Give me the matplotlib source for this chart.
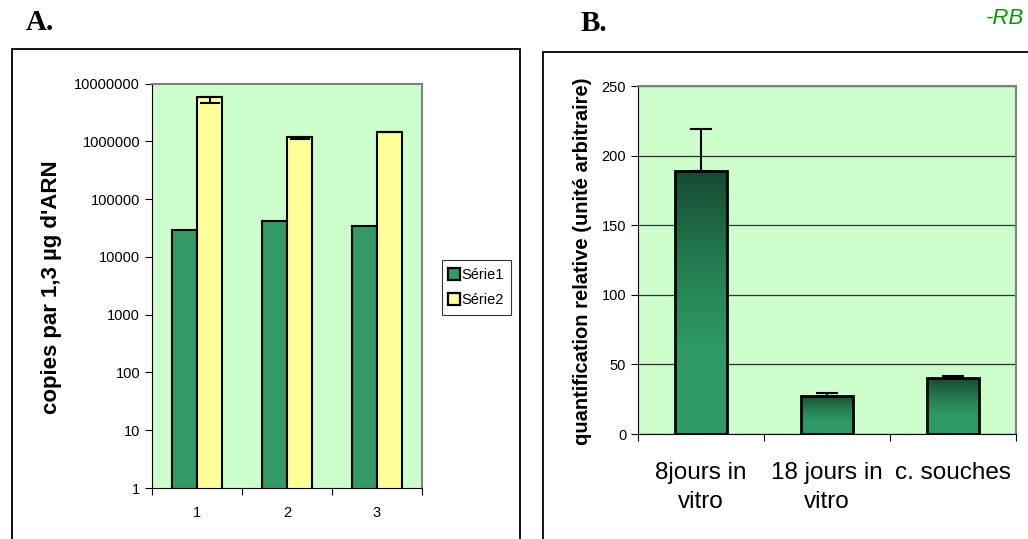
import numpy as np
import matplotlib
matplotlib.use('Agg')
import matplotlib.pyplot as plt
from matplotlib.patches import Rectangle
from matplotlib.colors import LinearSegmentedColormap
from matplotlib.lines import Line2D

plt.rcParams['font.family'] = ['Liberation Sans', 'DejaVu Sans']

# Panel A data
cats_a = ['1', '2', '3']
serie1 = [29000, 41500, 34500]
serie2 = [5750000, 1200000, 1450000]
serie2_err_low = [1100000, 100000, 20000]
yticks_a = [1, 10, 100, 1000, 10000, 100000, 1000000, 10000000]

# Panel B data
cats_b = ['8jours in\nvitro', '18 jours in\nvitro', 'c. souches']
quant = [189, 27.5, 40]
quant_err = [30, 2, 1.5]
yticks_b = [0, 50, 100, 150, 200, 250]

W, H = 1028, 539
fig = plt.figure(figsize=(W / 100, H / 100), dpi=100)

def fx(px):
    return px / W

def fy(py):
    return 1 - py / H

bg = '#CCFFCC'
c1 = '#339966'
c2 = '#FFFF99'

# outer frames
fig.patches.append(Rectangle((fx(12), fy(545)), fx(520) - fx(12), fy(49) - fy(545),
                             transform=fig.transFigure, fill=False, edgecolor='black', lw=1.3))
fig.patches.append(Rectangle((fx(543), fy(545)), fx(1040) - fx(543), fy(52) - fy(545),
                             transform=fig.transFigure, fill=False, edgecolor='black', lw=1.3))

fig.text(fx(26), fy(30), 'A.', family='Liberation Serif', fontweight='bold', fontsize=21)
fig.text(fx(581), fy(31), 'B.', family='Liberation Serif', fontweight='bold', fontsize=21)
fig.text(fx(1024), fy(24), '-RB', color='#009900', fontstyle='italic', fontsize=16, ha='right')

# ---- Panel A ----
axA = fig.add_axes([fx(152), fy(488), fx(422) - fx(152), fy(83.5) - fy(488)])
axA.set_facecolor(bg)
x = np.arange(len(cats_a))
bw = 0.283
axA.bar(x - bw / 2, serie1, bw, color=c1, edgecolor='black', linewidth=1.5, zorder=2)
axA.bar(x + bw / 2, serie2, bw, color=c2, edgecolor='black', linewidth=1.5, zorder=2)
axA.errorbar(x + bw / 2, serie2, yerr=[serie2_err_low, [0, 0, 0]], fmt='none',
             ecolor='black', elinewidth=1.5, capsize=7, capthick=1.5, zorder=3)
axA.set_yscale('log')
axA.set_ylim(1, 10000000)
axA.set_xlim(-0.5, 2.5)
axA.set_yticks(yticks_a)
axA.set_yticklabels([str(v) for v in yticks_a], fontsize=10.5)
axA.yaxis.set_minor_locator(matplotlib.ticker.NullLocator())
axA.set_xticks([-0.5, 0.5, 1.5, 2.5])
axA.set_xticklabels([])
axA.set_xticks(x, minor=True)
axA.set_xticklabels(cats_a, minor=True, fontsize=10.5)
axA.tick_params(axis='x', which='minor', length=0, pad=13)
axA.tick_params(axis='x', which='major', length=5, direction='out')
axA.tick_params(axis='y', length=5, direction='out')
for s in ['top', 'right']:
    axA.spines[s].set_color('#808080')
    axA.spines[s].set_linewidth(1.5)
for s in ['left', 'bottom']:
    axA.spines[s].set_color('black')
fig.text(fx(52), fy(287), "copies par 1,3 µg d'ARN", rotation=90, fontweight='bold',
         fontsize=16, ha='center', va='center')

handles = [Line2D([], [], marker='s', linestyle='none', markersize=9, markerfacecolor=c1,
                  markeredgecolor='black', markeredgewidth=1.6),
           Line2D([], [], marker='s', linestyle='none', markersize=9, markerfacecolor=c2,
                  markeredgecolor='black', markeredgewidth=1.6)]
leg = fig.legend(handles, ['Série1', 'Série2'], loc='upper left',
                 bbox_to_anchor=(fx(442), fy(260)), fontsize=10.5, frameon=True, fancybox=False,
                 edgecolor='black', handlelength=0.6, handletextpad=0.15, borderpad=0.55,
                 labelspacing=0.75, borderaxespad=0)
leg.get_frame().set_linewidth(0.8)

# ---- Panel B ----
axB = fig.add_axes([fx(638), fy(434), fx(1016) - fx(638), fy(86) - fy(434)])
axB.set_facecolor(bg)
xb = np.arange(len(cats_b))
bwb = 0.405
cmap = LinearSegmentedColormap.from_list('g', ['#174a30', '#237a50', '#2e9966', '#2f9a66'])
bars = axB.bar(xb, quant, bwb, color='none', edgecolor='black', linewidth=2, zorder=3)
for b in bars:
    grad = np.linspace(0, 1, 256).reshape(-1, 1)
    im = axB.imshow(grad, cmap=cmap, aspect='auto', zorder=2,
                    extent=[b.get_x(), b.get_x() + b.get_width(), 0, b.get_height()],
                    origin='upper')
    im.set_clip_path(b)
axB.errorbar(xb, quant, yerr=[[0, 0, 0], quant_err], fmt='none', ecolor='black',
             elinewidth=1.5, capsize=8, capthick=1.5, zorder=4)
axB.set_xlim(-0.5, 2.5)
axB.set_ylim(0, 250)
axB.set_yticks(yticks_b)
axB.set_yticklabels([str(v) for v in yticks_b], fontsize=10.5)
axB.yaxis.grid(True, color='#303030', linewidth=0.9, zorder=1)
axB.set_axisbelow(True)
axB.set_xticks([-0.5, 0.5, 1.5, 2.5])
axB.set_xticklabels([])
axB.set_xticks(xb, minor=True)
axB.set_xticklabels(cats_b, minor=True, fontsize=17.5, linespacing=1.45)
axB.tick_params(axis='x', which='minor', length=0, pad=20)
axB.tick_params(axis='x', which='major', length=5, direction='out')
axB.tick_params(axis='y', length=5, direction='out')
for s in ['top', 'right']:
    axB.spines[s].set_color('#808080')
    axB.spines[s].set_linewidth(1.5)
fig.text(fx(582), fy(261), 'quantification relative (unité arbitraire)', rotation=90,
         fontweight='bold', fontsize=14.5, ha='center', va='center')

fig.savefig('out.png', dpi=100)
